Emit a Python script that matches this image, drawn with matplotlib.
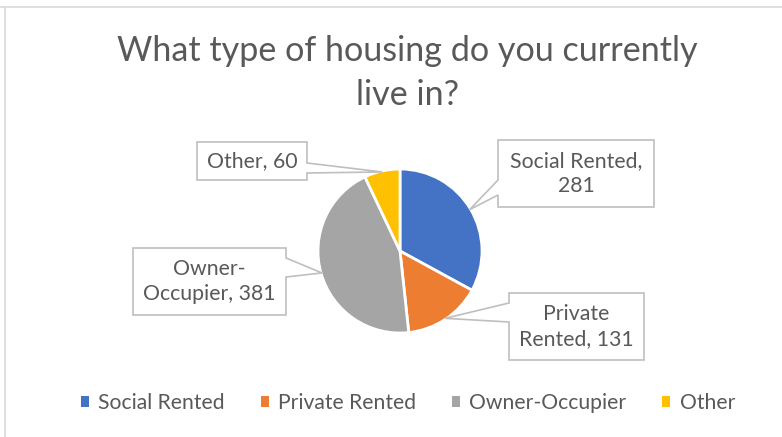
import matplotlib.pyplot as plt
from matplotlib.patches import Polygon
from matplotlib.lines import Line2D
import numpy as np

plt.rcParams['font.family'] = ['Lato', 'DejaVu Sans']

# data
categories = ["Social Rented", "Private Rented", "Owner-Occupier", "Other"]
values = [281, 131, 381, 60]
label_texts = ["Social Rented,\n281", "Private\nRented, 131", "Owner-\nOccupier, 381", "Other, 60"]
colors = ["#4472C4", "#ED7D31", "#A5A5A5", "#FFC000"]
title = "What type of housing do you currently\nlive in?"

W, H = 782, 437
TEXT = "#595959"
GRID = "#BFBFBF"

# pie geometry in pixels (y from top)
CX, CY, R = 400, 251, 82

# callout boxes: (left, top, right, bottom), side of pointer, pointer base (y1, y2)
boxes = [
    ((498, 140, 654, 207), "left", (180, 195)),
    ((509, 293, 644, 360), "left", (303, 322)),
    ((133, 248, 286, 315), "right", (258, 277)),
    ((197, 142, 307, 180), "right", (163, 173)),
]


def Y(y):
    return H - y


fig = plt.figure(figsize=(W / 100, H / 100), dpi=100)
ax = fig.add_axes([0, 0, 1, 1])
ax.set_xlim(0, W)
ax.set_ylim(0, H)
ax.set_aspect("equal")
ax.axis("off")

wedges, _ = ax.pie(values, colors=colors, startangle=90, counterclock=False,
                   center=(CX, Y(CY)), radius=R,
                   wedgeprops=dict(edgecolor="white", linewidth=2))
ax.set_xlim(0, W)
ax.set_ylim(0, H)

# callouts with pointer to the middle of each slice
total = sum(values)
start = 0.0
for i, v in enumerate(values):
    mid = (start + v / 2) / total * 2 * np.pi
    start += v
    tx = CX + (R - 1) * np.sin(mid)
    ty = CY - (R - 1) * np.cos(mid)
    (l, t, r, b), side, (p1, p2) = boxes[i]
    if side == "left":
        pts = [(l, t), (r, t), (r, b), (l, b), (l, p2), (tx, ty), (l, p1)]
    else:
        pts = [(l, t), (r, t), (r, p1), (tx, ty), (r, p2), (r, b), (l, b)]
    pts = [(x, Y(y)) for x, y in pts]
    ax.add_patch(Polygon(pts, closed=True, facecolor="white", edgecolor=GRID,
                         linewidth=1.2, zorder=3))
    ax.text((l + r) / 2, Y((t + b) / 2), label_texts[i], ha="center", va="center",
            fontsize=15.3, color=TEXT, linespacing=1.3, zorder=4)

fig.text(407 / W, 1 - 73 / H, title, ha="center", va="center",
         fontsize=24.6, color=TEXT, linespacing=1.45)

leg = ax.legend(wedges, categories, loc="center", bbox_to_anchor=(408 / W, 1 - 403 / H),
                ncol=4, frameon=False, fontsize=15.2, handlelength=0.37,
                handleheight=0.37, handletextpad=0.45, columnspacing=1.7,
                labelcolor=TEXT)
for h in leg.legend_handles:
    h.set_edgecolor("none")

# chart area border (top and left edges visible)
fig.add_artist(Line2D([0, 1], [1 - 7 / H, 1 - 7 / H], color="#D9D9D9", linewidth=1.2))
fig.add_artist(Line2D([5 / W, 5 / W], [0, 1 - 7 / H], color="#D9D9D9", linewidth=1.2))

fig.savefig("out.png", dpi=100)
